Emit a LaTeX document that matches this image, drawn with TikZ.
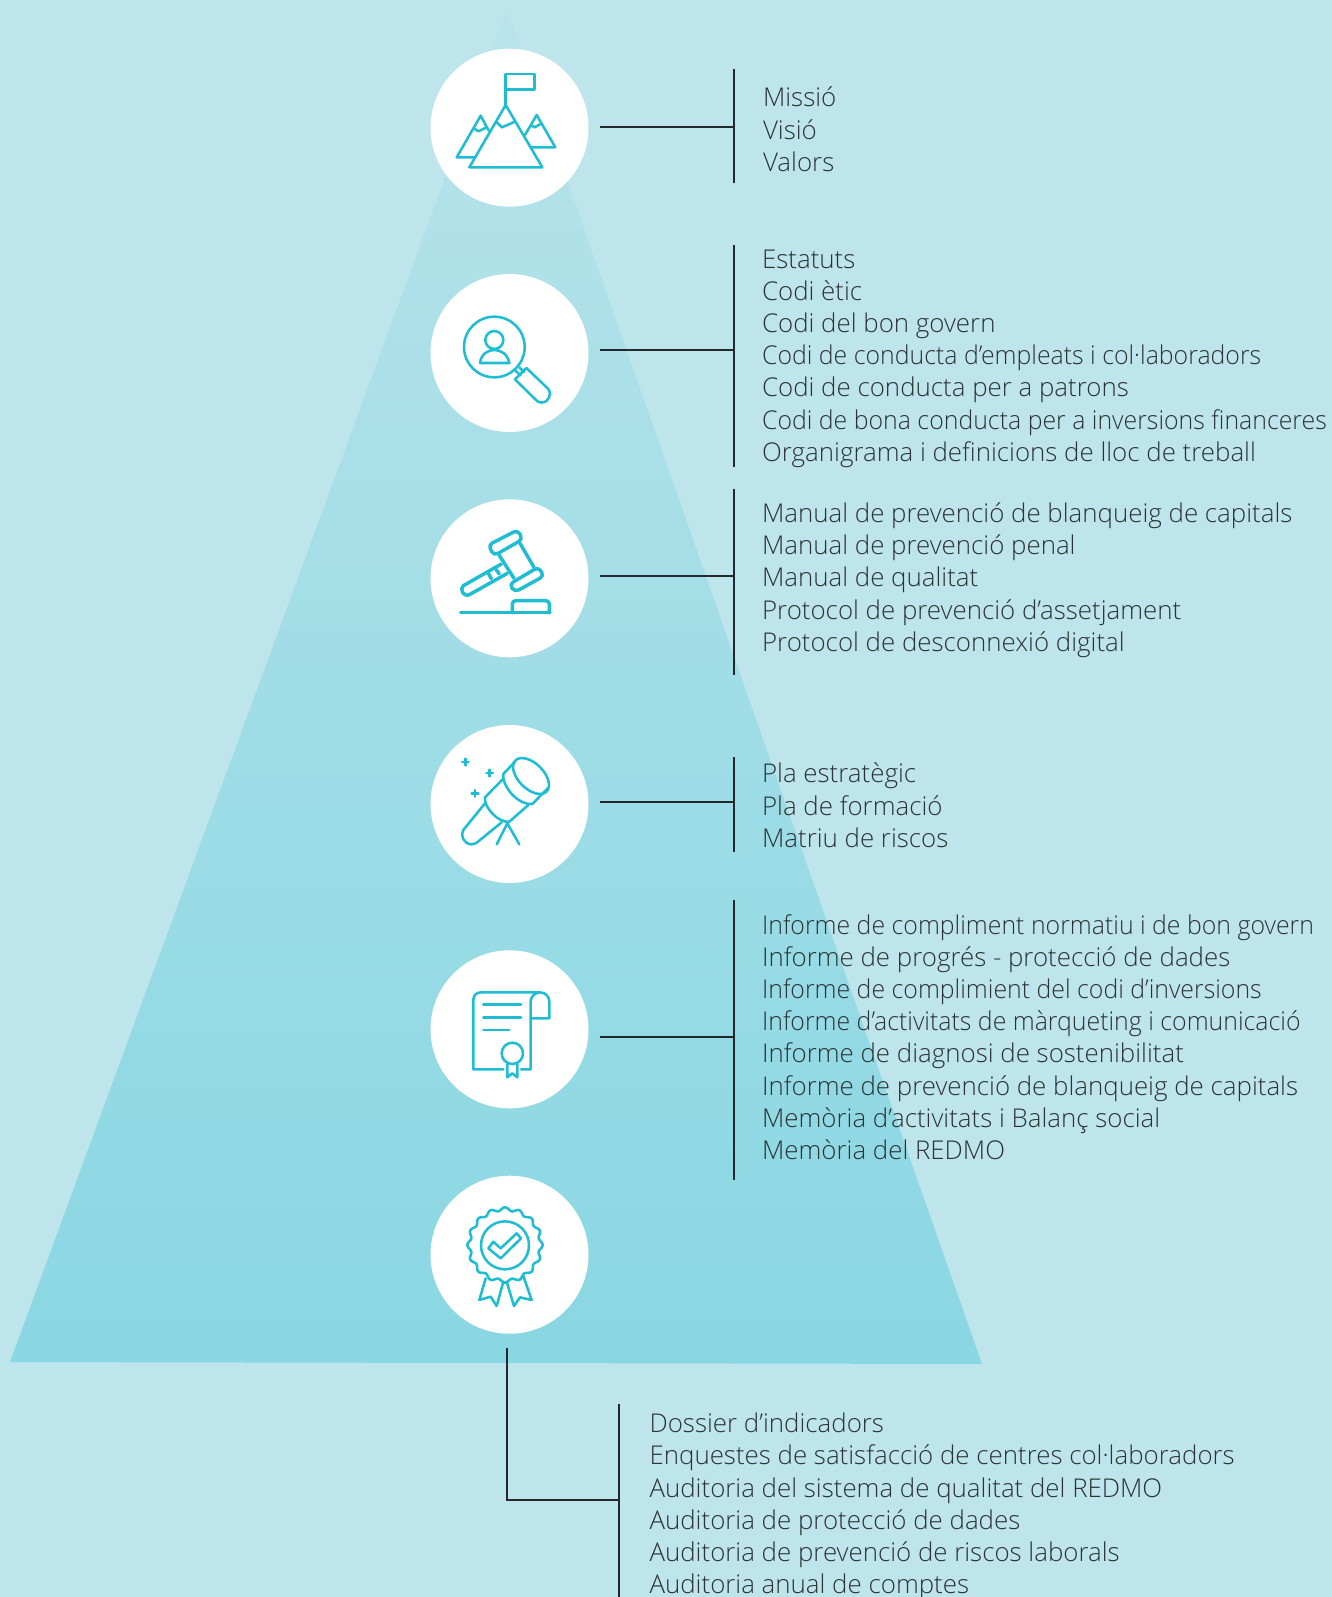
\documentclass[tikz,border=0pt]{standalone}
\usepackage{fontspec}
\setmainfont{Open Sans}[UprightFont=* Light]
\definecolor{skypale}{HTML}{BEE5EC}
\definecolor{skytop}{HTML}{B8E3EA}
\definecolor{skybase}{HTML}{89D7E3}
\definecolor{iconblue}{HTML}{1FBDD3}
\definecolor{rulegrey}{HTML}{22282B}
\definecolor{textgrey}{HTML}{2A3336}
\newcommand{\snug}[1]{\scalebox{.961}[1]{#1}}
\tikzset{
	medal/.style={circle, fill=white, minimum size=118.5pt, inner sep=0},
	rulebar/.style={draw=rulegrey, line width=1.7pt},
	docs/.style={anchor=west, inner sep=0, align=left, text=textgrey, font=\fontsize{19.4}{24.15}\selectfont},
	iconpath/.style={draw=iconblue, line width=1.9pt, line join=round, line cap=round},
	iconthick/.style={draw=iconblue, line width=2.6pt, line join=round, line cap=round}
}
\begin{document}
\begin{tikzpicture}[x=0.75pt, y=-0.75pt]
	\useasboundingbox (0,0) rectangle (1332,1597);
	\fill [skypale] (0,0) rectangle (1332,1597);
	\shade [top color=skytop, bottom color=skybase] (507,9) -- (982,1364) -- (10,1362) -- cycle;
	% circles
	\node [medal] (mission) at (509.5,127.7) {};
	\node [medal] (codes) at (509.5,353) {};
	\node [medal] (manuals) at (509.5,578.3) {};
	\node [medal] (plans) at (509.5,804) {};
	\node [medal] (reports) at (509.5,1029.3) {};
	\node [medal] (audits) at (509.5,1254.7) {};
	% lists
	\node [docs] (missiontxt) at (762.8,129.4) {Missió\\Visió\\Valors};
	\node [docs] (codestxt) at (761.8,358.6) {Estatuts\\Codi ètic\\Codi del bon govern\\\snug{Codi de conducta d’empleats i col·laboradors}\\Codi de conducta per a patrons\\\snug{Codi de bona conducta per a inversions financeres}\\Organigrama i definicions de lloc de treball};
	\node [docs] (manualstxt) at (761.8,580.1) {Manual de prevenció de blanqueig de capitals\\Manual de prevenció penal\\Manual de qualitat\\Protocol de prevenció d’assetjament\\Protocol de desconnexió digital};
	\node [docs] (planstxt) at (761.8,805.4) {Pla estratègic\\Pla de formació\\Matriu de riscos};
	\node [docs] (reportstxt) at (761.8,1037) {\snug{Informe de compliment normatiu i de bon govern}\\Informe de progrés - protecció de dades\\\snug{Informe de complimient del codi d’inversions}\\\snug{Informe d’activitats de màrqueting i comunicació}\\Informe de diagnosi de sostenibilitat\\Informe de prevenció de blanqueig de capitals\\Memòria d’activitats i Balanç social\\Memòria del REDMO};
	\node [docs] (auditstxt) at (649.3,1506.5) {Dossier d’indicadors\\Enquestes de satisfacció de centres col·laboradors\\Auditoria del sistema de qualitat del REDMO\\Auditoria de protecció de dades\\Auditoria de prevenció de riscos laborals\\Auditoria anual de comptes};
	% rule ends
	\coordinate (top1) at (734.3,69.3);
	\coordinate (bot1) at (734.3,182.7);
	\coordinate (tap1) at (600,126.7);
	\coordinate (top2) at (734.3,245);
	\coordinate (bot2) at (734.3,467.4);
	\coordinate (tap2) at (600,349.7);
	\coordinate (top3) at (734.3,489);
	\coordinate (bot3) at (734.3,675.3);
	\coordinate (tap3) at (600,576.3);
	\coordinate (top4) at (734.3,757.3);
	\coordinate (bot4) at (734.3,851.7);
	\coordinate (tap4) at (600,801.7);
	\coordinate (top5) at (734.3,900);
	\coordinate (bot5) at (734.3,1180);
	\coordinate (tap5) at (600,1037.3);
	\coordinate (top6) at (619.3,1404.3);
	\coordinate (bot6) at (619.3,1597);
	\coordinate (tap6) at (507,1347.7);
	\foreach \k in {1,...,6}
		\draw [rulebar] (top\k) -- (bot\k);
	\foreach \k in {1,...,5}
		\draw [rulebar] (tap\k) -- (tap\k -| top\k);
	\draw [rulebar] (tap6) |- (tap6 |- 0,1500.3) -- (top6 |- 0,1500.3);
	% mountains
	\begin{scope}[shift={(420,0)}, x=0.25pt, y=-0.25pt, iconpath]
		\draw (257,315) -- (257,222) -- (343,222) -- (343,269) -- (257,269);
		\draw (257,315) -- (367,502) -- (148,502) -- cycle;
		\draw (229,366) -- (246,382) -- (285,365);
		\draw (206,392) -- (182,347) -- (110,472) -- (166,472);
		\draw (163,386) -- (175,394) -- (200,382);
		\draw (315,405) -- (350,345) -- (406,442) -- (332,442);
		\draw (335,376) -- (343,382) -- (362,372);
	% magnifier
		\draw (223,1041) circle [radius=91];
		\draw (223,1020) circle [radius=27];
		\draw (180,1089) .. controls (184,1060) and (205,1050) .. (223,1050) .. controls (241,1050) and (262,1060) .. (268,1089) -- cycle;
		\draw (319,1104) -- (384,1166) .. controls (398,1182) and (385,1208) .. (365,1208) .. controls (355,1208) and (350,1203) .. (345,1197) -- (285,1138) -- cycle;
		\draw (286,1112) -- (302,1126);
		\draw (298,1102) -- (312,1116);
	\end{scope}
	% gavel
	\begin{scope}[shift={(420,490)}, x=0.25pt, y=-0.25pt, iconthick]
		\draw [rounded corners=3.2pt] (205,165) -- (293,120) -- (308,148) -- (222,197) -- cycle;
		\draw [rounded corners=3.2pt] (268,283) -- (355,231) -- (372,258) -- (285,306) -- cycle;
		\draw (237,195) -- (282,265);
		\draw (300,160) -- (342,232);
		\draw (244,222) -- (130,287) .. controls (118,297) and (130,322) .. (148,314) -- (262,250);
		\draw (205,250) -- (214,266);
		\draw (228,238) -- (238,252);
		\draw (122,368) -- (390,368);
		\draw [rounded corners=2.5pt] (277,368) -- (277,332) -- (388,332) -- (388,368);
	\end{scope}
	% telescope
	\begin{scope}[shift={(420,490)}, x=0.25pt, y=-0.25pt, iconpath]
		\draw [shift={(333,858)}, rotate=-45] (0,0) ellipse [x radius=66, y radius=38];
		\draw (285,815) -- (250,852) .. controls (245,885) and (290,945) .. (337,942) -- (385,893);
		\draw (246,870) -- (195,922) .. controls (190,950) and (235,1000) .. (268,995) -- (325,945);
		\draw (195,940) -- (130,1020) .. controls (120,1035) and (130,1062) .. (155,1063) .. controls (165,1063) and (170,1058) .. (175,1054) -- (245,997);
		\draw (262,1000) -- (230,1063);
		\draw (262,1000) -- (298,1063);
		\foreach \sx/\sy in {136/816, 209/849, 165/910} {
			\draw [line width=2pt] (\sx-10,\sy) -- (\sx+10,\sy);
			\draw [line width=2pt] (\sx,\sy-10) -- (\sx,\sy+10);
		}
	\end{scope}
	% certificate
	\begin{scope}[shift={(420,940)}, x=0.25pt, y=-0.25pt, iconpath]
		\draw (250,388) -- (160,388) -- (160,180) .. controls (160,165) and (170,157) .. (183,157) -- (360,157) .. controls (378,157) and (388,172) .. (388,185) -- (388,235) -- (332,235);
		\draw (303,388) -- (332,388) -- (332,185) .. controls (332,170) and (345,157) .. (360,157);
		\draw (190,193) -- (303,193);
		\draw (190,232) -- (303,232);
		\draw (190,270) -- (268,270);
		\draw (277,340) circle [radius=32];
		\draw (262,372) -- (262,412) -- (277,400) -- (292,412) -- (292,372);
	% rosette
		\draw plot [domain=0:360, samples=240, smooth] ({255+(108+5*cos(16*\x))*cos(\x)}, {915+(108+5*cos(16*\x))*sin(\x)}) -- cycle;
		\draw (255,916) circle [radius=72];
		\draw (205,925) -- (220,905) -- (242,925) -- (290,880) -- (303,895) -- (242,955) -- cycle;
		\draw (197,1015) -- (178,1080) -- (212,1070) -- (230,1098) -- (250,1025);
		\draw (310,1008) -- (335,1080) -- (300,1072) -- (282,1098) -- (260,1025);
	\end{scope}
\end{tikzpicture}
\end{document}
